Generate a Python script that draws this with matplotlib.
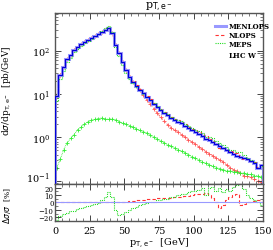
import numpy as np
import matplotlib.pyplot as plt
import matplotlib.transforms as mtransforms
from matplotlib.ticker import MultipleLocator, LogLocator, NullFormatter

# bin edges, 2.5 GeV bins from 0 to 150
edges = np.arange(0, 150.01, 2.5)

# MENLOPS central value [pb/GeV]
menlops = [9, 27, 41, 64, 78, 105, 122, 140, 160, 178,
           195, 218, 242, 270, 300, 325, 250, 135, 88, 55,
           35, 24, 19, 15.5, 12.5, 10.3, 8.7, 7.2, 6.0, 5.0,
           4.3, 3.7, 3.2, 2.8, 2.5, 2.3, 2.1, 1.85, 1.6, 1.45,
           1.3, 1.18, 1.05, 0.93, 0.85, 0.78, 0.7, 0.62, 0.57, 0.5,
           0.45, 0.42, 0.38, 0.36, 0.33, 0.31, 0.28, 0.26, 0.2, 0.23]

# relative deviation from MENLOPS [%]
nlops_dev = [0, 0, 0, 0, 0, 0, 0, 0, 0, 0,
             0, 0, 0, 0, 0, 0, 0.5, 0.5, 1, 1,
             1, 2, 2, 3, 3.5, 4, 4.5, 5, 5, 5.5,
             5.5, 6, 6, 6.5, 7, 7.5, 8, 8.5, 9, 10,
             11, 12, 12, 13, 10, 6, 1, -8, -3, 4,
             8, 10, 12, -4, -2, 0, 1, 2, 3, 1]
meps_dev = [-24, -18, -16, -14, -12, -11, -9, -8, -6, -5,
            -3, -2, -1, 3, 8, 14, 7, -10, -17, -16,
            -13, -10, -8, -6, -4, -2, -1, 0, 1, 3,
            4, 5, 5, 7, 8, 10, 12, 11, 14, 15,
            16, 17, 19, 10, 20, 21, 16, 19, 14, 18,
            15, 21, 23, 25, 18, 10, 6, 4, 0, -3]

# lower curves drawn with markers
red_low = [9, 27, 41, 64, 78, 105, 122, 140, 160, 178,
           195, 218, 242, 270, 300, 325, 250, 135, 88, 55,
           35, 24, 19, 15.3, 12, 9.5, 7.3, 5.8, 4.6, 3.6,
           2.9, 2.35, 1.95, 1.65, 1.45, 1.3, 1.15, 1.0, 0.88, 0.78,
           0.69, 0.6, 0.53, 0.47, 0.42, 0.38, 0.33, 0.3, 0.27, 0.23,
           0.2, 0.18, 0.165, 0.15, 0.13, 0.125, 0.12, 0.11, 0.1, 0.095]
green_low = [0.2, 0.31, 0.52, 0.75, 0.95, 1.15, 1.5, 1.7, 2.0, 2.3,
             2.45, 2.6, 2.7, 2.8, 2.65, 2.6, 2.7, 2.5, 2.3, 2.15,
             2.0, 1.85, 1.7, 1.55, 1.45, 1.35, 1.25, 1.12, 1.0, 0.9,
             0.82, 0.75, 0.68, 0.62, 0.57, 0.52, 0.48, 0.44, 0.4, 0.36,
             0.33, 0.3, 0.27, 0.25, 0.23, 0.22, 0.2, 0.19, 0.18, 0.17,
             0.17, 0.16, 0.16, 0.15, 0.15, 0.14, 0.14, 0.13, 0.13, 0.12]

menlops = np.array(menlops)
nlops = menlops * (1 + np.array(nlops_dev) / 100)
meps = menlops * (1 + np.array(meps_dev) / 100)
centers = 0.5 * (edges[1:] + edges[:-1])

plt.rcParams['font.family'] = 'DejaVu Serif'
fig = plt.figure(figsize=(2.73, 2.51), dpi=100)
ax = fig.add_axes([0.2015, 0.263, 0.762, 0.681])
axr = fig.add_axes([0.2015, 0.1155, 0.762, 0.1475], sharex=ax)

lblue = '#9999ff'
ax.plot(centers, red_low, color='#ff5555', lw=0.6, ls=(0, (3, 2)), marker='+', ms=3, mew=0.6, zorder=1)
ax.plot(centers, green_low, color='#33ee33', lw=0.6, ls=(0, (1, 1)), marker='+', ms=3.5, mew=0.6, zorder=1)
ax.stairs(menlops, edges, baseline=1e-4, color=lblue, lw=2.2, label='MENLOPS', zorder=2)
ax.stairs(nlops, edges, baseline=1e-4, color='#ff3333', lw=0.8, ls=(0, (3, 2)), label='NLOPS', zorder=3)
ax.stairs(meps, edges, baseline=1e-4, color='#22dd22', lw=0.8, ls=(0, (1, 1)), label='MEPS', zorder=3)
ax.stairs(menlops, edges, baseline=1e-4, color='#0000dd', lw=0.8, zorder=4)

ax.set_yscale('log')
ax.set_xlim(0, 150)
ax.set_ylim(0.084, 730)
ax.set_yticks([0.1, 1, 10, 100])
ax.yaxis.set_minor_locator(LogLocator(base=10, subs=np.arange(2, 10), numticks=10))
ax.yaxis.set_minor_formatter(NullFormatter())
ax.set_ylabel(r'd$\sigma$/dp$_{\mathrm{T,e^-}}$  [pb/GeV]', fontsize=6.5)
ax.yaxis.set_label_coords(-0.2, 0.55)
ax.set_title(r'p$_{\mathrm{T,e^-}}$', fontsize=8, pad=3)
plt.setp(ax.get_xticklabels(), visible=False)

leg = ax.legend(loc='upper left', bbox_to_anchor=(0.77, 0.945), fontsize=5, frameon=False,
                handlelength=1.6, handletextpad=0.3, labelspacing=0.1,
                borderaxespad=0, borderpad=0)
for t in leg.get_texts():
    t.set_fontweight('bold')
ax.text(0.83, 0.76, r'LHC W$^-$', transform=ax.transAxes, fontsize=5,
        fontweight='bold', va='center')

axr.axhline(0, color=lblue, lw=0.8)
axr.stairs(nlops_dev, edges, color='#ff3333', lw=0.8, ls=(0, (3, 2)))
axr.stairs(meps_dev, edges, color='#22dd22', lw=0.8, ls=(0, (1, 1)))
axr.set_ylim(-25, 25)
axr.set_yticks([-20, -10, 0, 10, 20])
axr.yaxis.set_minor_locator(MultipleLocator(5))
axr.set_ylabel(r'$\Delta\sigma$/$\sigma$  [%]', fontsize=5.5)
axr.yaxis.set_label_coords(-0.2, 0.45)
axr.set_xlabel(r'p$_{\mathrm{T,e^-}}$  [GeV]', fontsize=7, labelpad=1)
axr.xaxis.set_major_locator(MultipleLocator(25))
axr.xaxis.set_minor_locator(MultipleLocator(5))

for a in (ax, axr):
    a.tick_params(which='both', direction='in', top=True, right=True, colors='#444444',
                  labelcolor='black')
    a.tick_params(which='major', length=4, width=0.7)
    a.tick_params(which='minor', length=2, width=0.5)
    for s in a.spines.values():
        s.set_color('#555555')
        s.set_linewidth(1.0)
ax.tick_params(axis='y', labelsize=7)
axr.tick_params(axis='y', labelsize=5, pad=1)
axr.tick_params(axis='x', labelsize=7)

# lift the lowest decade label a little so it clears the ratio panel labels
lift = mtransforms.ScaledTranslation(0, 3 / 72, fig.dpi_scale_trans)
lowest = ax.yaxis.get_major_ticks()[0].label1
lowest.set_transform(lowest.get_transform() + lift)

fig.savefig('out.png', dpi=100)
